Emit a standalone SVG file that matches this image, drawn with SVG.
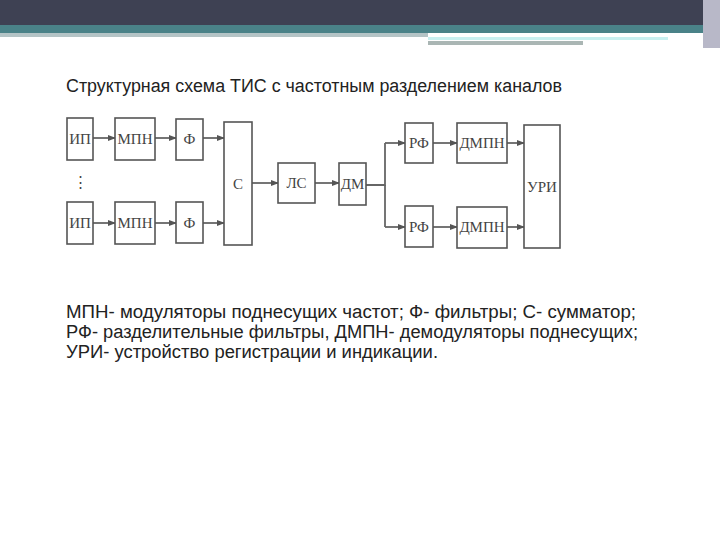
<svg xmlns="http://www.w3.org/2000/svg" width="720" height="540" viewBox="0 0 720 540">
<defs>
<marker id="a" markerWidth="8" markerHeight="6" refX="7" refY="3" orient="auto" markerUnits="userSpaceOnUse"><path d="M0,0 L8,3 L0,6 Z" fill="#555"/></marker>
<style>
.b{fill:#fff;stroke:#555;stroke-width:1.6}
.t{font-family:"Liberation Serif",serif;font-size:15px;fill:#444;text-anchor:middle;dominant-baseline:central}
.c{stroke:#666;stroke-width:1.8;fill:none;marker-end:url(#a)}
.l{stroke:#666;stroke-width:1.8;fill:none}
.x{font-family:"Liberation Sans",Arial,sans-serif;font-size:18px;fill:#222}
</style>
</defs>
<rect width="720" height="540" fill="#fff"/>
<rect width="720" height="25" fill="#3e4153"/>
<rect y="25" width="720" height="8" fill="#4a8288"/>
<rect y="33" width="428" height="4" fill="#b4c4c6"/>
<rect x="428" y="37" width="240" height="3" fill="#c8f0f0"/>
<rect x="428" y="41" width="155" height="4" fill="#aab6b4"/>
<rect x="703" y="0" width="17" height="48" fill="#b8b8c8"/>
<text x="66" y="92" class="x" textLength="496" lengthAdjust="spacingAndGlyphs">Структурная схема ТИС с частотным разделением каналов</text>
<g id="connectors">
<path class="c" d="M93,138 H115"/><path class="c" d="M155,138 H176"/><path class="c" d="M203,138 H224"/>
<path class="c" d="M93,223 H115"/><path class="c" d="M155,223 H176"/><path class="c" d="M203,223 H224"/>
<path class="c" d="M252,183 H278"/><path class="c" d="M315,183 H339"/>
<path class="l" d="M366,185 H385 V143"/><path class="c" d="M385,143 H405"/>
<path class="l" d="M385,185 V227"/><path class="c" d="M385,227 H405"/>
<path class="c" d="M433,143 H457"/><path class="c" d="M433,227 H457"/>
<path class="c" d="M507,143 H524"/><path class="c" d="M507,227 H524"/>
</g>
<text x="80" y="182" class="t" font-size="16">⋮</text>
<g id="ip1"><rect class="b" x="67" y="118" width="26" height="42"/><text class="t" x="80" y="139">ИП</text></g>
<g id="mpn1"><rect class="b" x="115" y="118" width="40" height="42"/><text class="t" x="135" y="139">МПН</text></g>
<g id="f1"><rect class="b" x="176" y="119" width="27" height="41"/><text class="t" x="189.5" y="139">Ф</text></g>
<g id="ip2"><rect class="b" x="67" y="202" width="26" height="42"/><text class="t" x="80" y="223">ИП</text></g>
<g id="mpn2"><rect class="b" x="115" y="202" width="40" height="42"/><text class="t" x="135" y="223">МПН</text></g>
<g id="f2"><rect class="b" x="176" y="202" width="27" height="41"/><text class="t" x="189.5" y="223">Ф</text></g>
<g id="s"><rect class="b" x="224" y="122" width="28" height="123"/><text class="t" x="238" y="184">С</text></g>
<g id="ls"><rect class="b" x="278" y="163" width="37" height="40"/><text class="t" x="296.5" y="183">ЛС</text></g>
<g id="dm"><rect class="b" x="339" y="163" width="27" height="42"/><text class="t" x="352.5" y="184">ДМ</text></g>
<g id="rf1"><rect class="b" x="405" y="123" width="28" height="40"/><text class="t" x="419" y="143">РФ</text></g>
<g id="dmpn1"><rect class="b" x="457" y="123" width="50" height="40"/><text class="t" x="482" y="143">ДМПН</text></g>
<g id="rf2"><rect class="b" x="405" y="206" width="28" height="41"/><text class="t" x="419" y="227">РФ</text></g>
<g id="dmpn2"><rect class="b" x="457" y="207" width="50" height="41"/><text class="t" x="482" y="227">ДМПН</text></g>
<g id="uri"><rect class="b" x="524" y="125" width="36" height="123"/><text class="t" x="542" y="187">УРИ</text></g>
<text x="66" y="318" class="x" textLength="570" lengthAdjust="spacingAndGlyphs">МПН- модуляторы поднесущих частот; Ф- фильтры; С- сумматор;</text>
<text x="66" y="338" class="x" textLength="572" lengthAdjust="spacingAndGlyphs">РФ- разделительные фильтры,  ДМПН- демодуляторы поднесущих;</text>
<text x="66" y="358" class="x" textLength="372" lengthAdjust="spacingAndGlyphs">УРИ- устройство регистрации и индикации.</text>
</svg>
